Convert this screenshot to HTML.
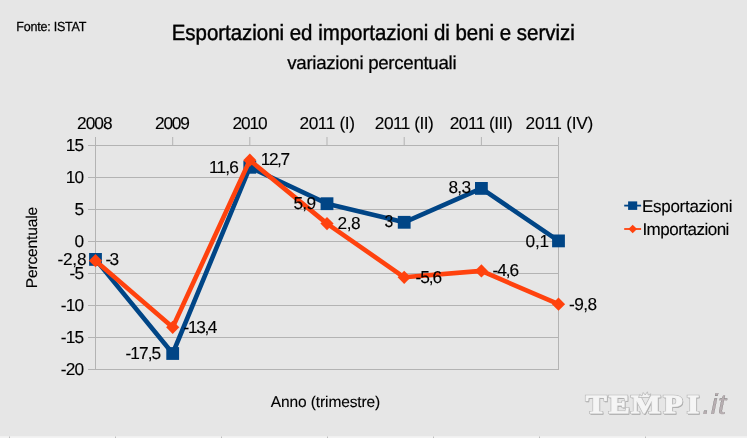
<!DOCTYPE html><html><head><meta charset="utf-8"><title>Esportazioni ed importazioni di beni e servizi</title>
<style>html,body{margin:0;padding:0;background:#e6e6e6;overflow:hidden}svg{display:block}text{font-family:"Liberation Sans",Arial,sans-serif;fill:#000;text-rendering:geometricPrecision;stroke:#000;stroke-width:0.12}</style></head><body>
<svg width="747" height="438" viewBox="0 0 747 438">
<rect width="747" height="438" fill="#e6e6e6"/>
<rect x="0" y="436.2" width="747" height="1.8" fill="#f3f3f3"/>
<rect x="9" y="436.5" width="1" height="1.5" fill="#bebebe"/>
<rect x="115" y="436.5" width="1" height="1.5" fill="#bebebe"/>
<rect x="221" y="436.5" width="1" height="1.5" fill="#bebebe"/>
<rect x="327" y="436.5" width="1" height="1.5" fill="#bebebe"/>
<rect x="433" y="436.5" width="1" height="1.5" fill="#bebebe"/>
<rect x="539" y="436.5" width="1" height="1.5" fill="#bebebe"/>
<rect x="645" y="436.5" width="1" height="1.5" fill="#bebebe"/>
<line x1="88" x2="558.5" y1="369.5" y2="369.5" stroke="#b3b3b3" stroke-width="1"/>
<line x1="88" x2="558.5" y1="337.5" y2="337.5" stroke="#b3b3b3" stroke-width="1"/>
<line x1="88" x2="558.5" y1="305.5" y2="305.5" stroke="#b3b3b3" stroke-width="1"/>
<line x1="88" x2="558.5" y1="273.5" y2="273.5" stroke="#b3b3b3" stroke-width="1"/>
<line x1="88" x2="558.5" y1="241.5" y2="241.5" stroke="#b3b3b3" stroke-width="1"/>
<line x1="88" x2="558.5" y1="209.5" y2="209.5" stroke="#b3b3b3" stroke-width="1"/>
<line x1="88" x2="558.5" y1="177.5" y2="177.5" stroke="#b3b3b3" stroke-width="1"/>
<line x1="88" x2="558.5" y1="145.5" y2="145.5" stroke="#b3b3b3" stroke-width="1"/>
<line x1="95.5" x2="95.5" y1="137" y2="370.0" stroke="#b3b3b3" stroke-width="1"/>
<line x1="558.5" x2="558.5" y1="145.5" y2="370.0" stroke="#b3b3b3" stroke-width="1"/>
<line x1="172.7" x2="172.7" y1="137" y2="145.5" stroke="#b3b3b3" stroke-width="1"/>
<line x1="249.8" x2="249.8" y1="137" y2="145.5" stroke="#b3b3b3" stroke-width="1"/>
<line x1="327.0" x2="327.0" y1="137" y2="145.5" stroke="#b3b3b3" stroke-width="1"/>
<line x1="404.2" x2="404.2" y1="137" y2="145.5" stroke="#b3b3b3" stroke-width="1"/>
<line x1="481.4" x2="481.4" y1="137" y2="145.5" stroke="#b3b3b3" stroke-width="1"/>
<line x1="558.5" x2="558.5" y1="137" y2="145.5" stroke="#b3b3b3" stroke-width="1"/>
<polyline points="95.5,259.4 172.7,353.5 249.8,167.3 327.0,203.7 404.2,222.3 481.4,188.4 558.5,240.9" fill="none" stroke="#004586" stroke-width="4.6" stroke-linejoin="round"/>
<rect x="89.1" y="253.0" width="12.8" height="12.8" fill="#004586"/>
<rect x="166.3" y="347.1" width="12.8" height="12.8" fill="#004586"/>
<rect x="243.4" y="160.9" width="12.8" height="12.8" fill="#004586"/>
<rect x="320.6" y="197.3" width="12.8" height="12.8" fill="#004586"/>
<rect x="397.8" y="215.9" width="12.8" height="12.8" fill="#004586"/>
<rect x="475.0" y="182.0" width="12.8" height="12.8" fill="#004586"/>
<rect x="552.1" y="234.5" width="12.8" height="12.8" fill="#004586"/>
<polyline points="95.5,260.7 172.7,327.3 249.8,160.2 327.0,223.6 404.2,277.3 481.4,270.9 558.5,304.2" fill="none" stroke="#ff420e" stroke-width="4.6" stroke-linejoin="round"/>
<polygon points="95.5,254.1 102.1,260.7 95.5,267.3 88.9,260.7" fill="#ff420e"/>
<polygon points="172.7,320.7 179.3,327.3 172.7,333.9 166.1,327.3" fill="#ff420e"/>
<polygon points="249.8,153.6 256.4,160.2 249.8,166.8 243.2,160.2" fill="#ff420e"/>
<polygon points="327.0,217.0 333.6,223.6 327.0,230.2 320.4,223.6" fill="#ff420e"/>
<polygon points="404.2,270.7 410.8,277.3 404.2,283.9 397.6,277.3" fill="#ff420e"/>
<polygon points="481.4,264.3 488.0,270.9 481.4,277.5 474.8,270.9" fill="#ff420e"/>
<polygon points="558.5,297.6 565.1,304.2 558.5,310.8 551.9,304.2" fill="#ff420e"/>
<text transform="translate(16.35,31.00) scale(0.9500,1)" font-size="13.20" letter-spacing="-0.242" style="stroke-width:0.25">Fonte: ISTAT</text>
<text transform="translate(171.67,39.90) scale(0.9300,1)" font-size="22.00" letter-spacing="-0.016" style="stroke-width:0.45">Esportazioni ed importazioni di beni e servizi</text>
<text transform="translate(287.30,68.60) scale(1.0000,1)" font-size="18.70" letter-spacing="-0.300" style="stroke-width:0.25">variazioni percentuali</text>
<text transform="translate(77.10,129.00) scale(1.0000,1)" font-size="17.30" letter-spacing="-1.011">2008</text>
<text transform="translate(155.10,129.00) scale(1.0000,1)" font-size="17.30" letter-spacing="-1.244">2009</text>
<text transform="translate(232.40,129.00) scale(1.0000,1)" font-size="17.30" letter-spacing="-1.111">2010</text>
<text transform="translate(299.40,129.00) scale(1.0000,1)" font-size="17.30" letter-spacing="-0.374">2011 (I)</text>
<text transform="translate(374.80,129.00) scale(1.0000,1)" font-size="17.30" letter-spacing="-0.502">2011 (II)</text>
<text transform="translate(449.80,129.00) scale(1.0000,1)" font-size="17.30" letter-spacing="-0.558">2011 (III)</text>
<text transform="translate(525.60,129.00) scale(1.0000,1)" font-size="17.30" letter-spacing="-0.268">2011 (IV)</text>
<text transform="translate(57.40,264.90) scale(1.0000,1)" font-size="17.30" letter-spacing="-0.222">-2,8</text>
<text transform="translate(105.60,265.30) scale(1.0000,1)" font-size="17.30" letter-spacing="-1.855">-3</text>
<text transform="translate(125.50,358.50) scale(1.0000,1)" font-size="17.30" letter-spacing="-0.945">-17,5</text>
<text transform="translate(183.60,332.80) scale(1.0000,1)" font-size="17.30" letter-spacing="-1.395">-13,4</text>
<text transform="translate(209.00,172.50) scale(1.0000,1)" font-size="17.30" letter-spacing="-0.847">11,6</text>
<text transform="translate(260.80,165.40) scale(1.0000,1)" font-size="17.30" letter-spacing="-1.474">12,7</text>
<text transform="translate(293.40,208.50) scale(1.0000,1)" font-size="17.30" letter-spacing="-0.656">5,9</text>
<text transform="translate(337.60,228.60) scale(1.0000,1)" font-size="17.30" letter-spacing="-0.456">2,8</text>
<text transform="translate(384.40,227.40) scale(0.9111,1)" font-size="17.30" letter-spacing="0.000">3</text>
<text transform="translate(415.50,282.60) scale(1.0000,1)" font-size="17.30" letter-spacing="-1.056">-5,6</text>
<text transform="translate(448.40,193.30) scale(1.0000,1)" font-size="17.30" letter-spacing="-0.656">8,3</text>
<text transform="translate(492.50,276.30) scale(1.0000,1)" font-size="17.30" letter-spacing="-1.056">-4,6</text>
<text transform="translate(525.50,246.70) scale(1.0000,1)" font-size="17.30" letter-spacing="-0.156">0,1</text>
<text transform="translate(569.10,309.50) scale(1.0000,1)" font-size="17.30" letter-spacing="-0.556">-9,8</text>
<text transform="translate(641.90,211.60) scale(1.0000,1)" font-size="17.00" letter-spacing="-0.270">Esportazioni</text>
<text transform="translate(642.40,235.20) scale(1.0000,1)" font-size="17.00" letter-spacing="-0.511">Importazioni</text>
<text transform="translate(270.80,407.40) scale(1.0000,1)" font-size="15.50" letter-spacing="-0.110">Anno (trimestre)</text>
<text transform="translate(60.63,374.70) scale(1.0000,1)" font-size="17.30" letter-spacing="-0.750">-20</text>
<text transform="translate(60.63,342.70) scale(1.0000,1)" font-size="17.30" letter-spacing="-0.750">-15</text>
<text transform="translate(60.63,310.70) scale(1.0000,1)" font-size="17.30" letter-spacing="-0.750">-10</text>
<text transform="translate(69.50,278.70) scale(1.0000,1)" font-size="17.30" letter-spacing="-0.750">-5</text>
<text transform="translate(74.50,246.70) scale(1.0000,1)" font-size="17.30" letter-spacing="-0.750">0</text>
<text transform="translate(74.50,214.70) scale(1.0000,1)" font-size="17.30" letter-spacing="-0.750">5</text>
<text transform="translate(65.64,182.70) scale(1.0000,1)" font-size="17.30" letter-spacing="-0.750">10</text>
<text transform="translate(65.64,150.70) scale(1.0000,1)" font-size="17.30" letter-spacing="-0.750">15</text>
<text transform="translate(37.10,288.30) rotate(-90) scale(1,1.0000)" font-size="15.60" letter-spacing="-0.175">Percentuale</text>
<line x1="624.2" x2="641.1" y1="205.6" y2="205.6" stroke="#004586" stroke-width="1.8"/>
<rect x="628.1" y="201.4" width="9.1" height="8.5" fill="#004586"/>
<line x1="624.2" x2="641.1" y1="229.0" y2="229.0" stroke="#ff420e" stroke-width="1.8"/>
<polygon points="632.7,224.7 637.0,229.0 632.7,233.3 628.4,229.0" fill="#ff420e"/>
<text x="-0.42 18.75 37.29 64.50 83.96" y="0" transform="translate(586.90,414.10) scale(1.200,1)" font-size="26.2" style="font-family:'Liberation Serif',serif;font-weight:bold;text-rendering:geometricPrecision;fill:#a6a6a6;stroke:#a6a6a6;stroke-width:1.3">TEMPI</text>
<text x="-0.42 18.75 37.29 64.50 83.96" y="0" transform="translate(586.20,413.30) scale(1.200,1)" font-size="26.2" style="font-family:'Liberation Serif',serif;font-weight:bold;text-rendering:geometricPrecision;fill:#bcbcbc;stroke:#bcbcbc;stroke-width:2.2">TEMPI</text>
<text x="-0.42 18.75 37.29 64.50 83.96" y="0" transform="translate(586.20,413.30) scale(1.200,1)" font-size="26.2" style="font-family:'Liberation Serif',serif;font-weight:bold;text-rendering:geometricPrecision;fill:#f5f5f5;stroke:#f5f5f5;stroke-width:0.9">TEMPI</text>
<text transform="translate(702.3,414.3) scale(1.06,1)" font-size="29" style="font-family:'Liberation Sans',sans-serif;font-style:italic;fill:#b7aeb1;text-rendering:geometricPrecision">.it</text>
<path d="M638.5,397.5 l1.2,-3 l2.2,1.5 l1.3,-3.5 l2,2.5 l2.2,-3.2 l0.8,3.2 l2.6,-1.2 l-1.6,3.7 z" fill="#f2f2f2" stroke="#b0b0b0" stroke-width="0.7"/>
</svg></body></html>
